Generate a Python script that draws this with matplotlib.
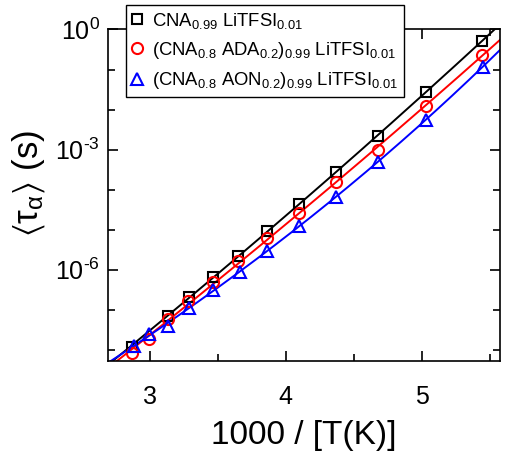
import numpy as np
import matplotlib
matplotlib.use("Agg")
import matplotlib.pyplot as plt
from matplotlib.ticker import FixedLocator, FuncFormatter, NullFormatter

plt.rcParams['font.family'] = ['Liberation Sans', 'DejaVu Sans']
plt.rcParams['mathtext.fontset'] = 'custom'
plt.rcParams['mathtext.rm'] = 'Liberation Sans'
plt.rcParams['mathtext.it'] = 'Liberation Sans:italic'
plt.rcParams['mathtext.default'] = 'regular'
plt.rcParams['axes.unicode_minus'] = False

# 1000/T and log10(tau)
x_cna = [2.865, 3.13, 3.287, 3.46, 3.65, 3.864, 4.098, 4.368, 4.675, 5.031, 5.444]
y_cna = [-7.93, -7.16, -6.69, -6.18, -5.65, -5.04, -4.36, -3.56, -2.67, -1.55, -0.30]

x_ada = [2.87, 2.99, 3.13, 3.28, 3.46, 3.65, 3.864, 4.098, 4.368, 4.675, 5.031, 5.444]
y_ada = [-8.08, -7.74, -7.24, -6.78, -6.31, -5.77, -5.22, -4.58, -3.82, -3.02, -1.91, -0.64]

x_aon = [2.88, 2.99, 3.13, 3.29, 3.46, 3.66, 3.864, 4.098, 4.368, 4.68, 5.031, 5.448]
y_aon = [-7.91, -7.60, -7.40, -6.96, -6.50, -6.05, -5.54, -4.90, -4.18, -3.30, -2.26, -0.93]

labels = [r'CNA$_{0.99}$ LiTFSI$_{0.01}$',
          r'(CNA$_{0.8}$ ADA$_{0.2}$)$_{0.99}$ LiTFSI$_{0.01}$',
          r'(CNA$_{0.8}$ AON$_{0.2}$)$_{0.99}$ LiTFSI$_{0.01}$']


def vft_fit(x, y):
    T = 1000.0 / np.asarray(x)
    y = np.asarray(y)
    best = None
    for T0 in np.linspace(20, T.min() - 5, 400):
        M = np.column_stack([np.ones_like(T), 1.0 / (T - T0)])
        coef, res, _, _ = np.linalg.lstsq(M, y, rcond=None)
        err = np.sum((M @ coef - y) ** 2)
        if best is None or err < best[0]:
            best = (err, T0, coef)
    return best[1], best[2]


def decade_label(v, pos):
    k = int(round(np.log10(v)))
    s = str(k).replace('-', '\u2010')
    return '$10^{%s}$' % s


fig = plt.figure(figsize=(5.09, 4.57), dpi=100)
ax = fig.add_axes([0.212, 0.21, 0.770, 0.7255])

series = [(x_cna, y_cna, 'black', 's', 7), (x_ada, y_ada, 'red', 'o', 8),
          (x_aon, y_aon, 'blue', '^', 8.5)]
handles = []
xf = np.linspace(2.6, 5.7, 300)
for (x, y, c, m, ms), lab in zip(series, labels):
    T0, (a, b) = vft_fit(x, y)
    ax.plot(xf, 10 ** (a + b / (1000.0 / xf - T0)), color=c, lw=1.4, zorder=2)
    h, = ax.plot(x, 10 ** np.asarray(y), ls='none', marker=m, ms=ms, mfc='none',
                 mec=c, mew=1.5, zorder=3, label=lab)
    handles.append(h)

ax.set_yscale('log')
ax.set_xlim(2.69, 5.575)
ax.set_ylim(10 ** -8.28, 1)
ax.xaxis.set_major_locator(FixedLocator([3, 4, 5]))
ax.xaxis.set_minor_locator(FixedLocator([3.5, 4.5, 5.5]))
ax.yaxis.set_major_locator(FixedLocator([1e-6, 1e-3, 1]))
ax.yaxis.set_major_formatter(FuncFormatter(decade_label))
ax.yaxis.set_minor_locator(FixedLocator([10.0 ** k for k in range(-9, 1)]))
ax.yaxis.set_minor_formatter(NullFormatter())
ax.tick_params(which='both', direction='in', top=True, right=True, width=1.2)
ax.tick_params(which='major', length=7, labelsize=18)
ax.tick_params(which='minor', length=5)
ax.tick_params(axis='x', which='major', pad=17)
ax.tick_params(axis='y', which='major', pad=6)
for s in ax.spines.values():
    s.set_linewidth(1.2)

ax.set_xlabel('1000 / [T(K)]', fontsize=24, labelpad=8)
ax.set_ylabel(r'$\langle\tau_\alpha\rangle$ (s)', fontsize=25)
ax.yaxis.set_label_coords(-0.155, 0.535)

leg = fig.legend(handles=handles, loc='upper left', bbox_to_anchor=(0.2475, 0.989),
                 fontsize=13.3, frameon=True, fancybox=False, edgecolor='black',
                 framealpha=1, handlelength=0.6, handletextpad=0.5,
                 borderpad=0.3, labelspacing=0.5, borderaxespad=0)
leg.get_frame().set_linewidth(1.0)

fig.savefig('out.png', dpi=100)
